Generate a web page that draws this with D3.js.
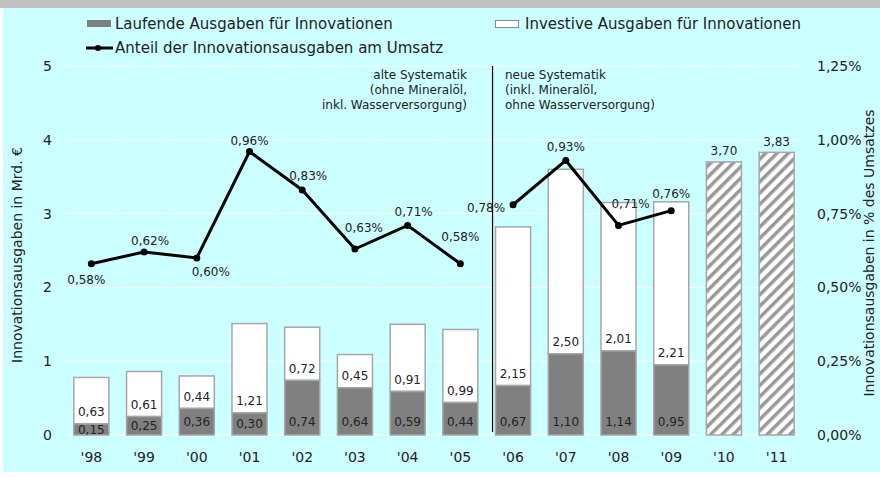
<!DOCTYPE html>
<html>
<head>
<meta charset="utf-8">
<script src="https://cdn.jsdelivr.net/npm/d3@7/dist/d3.min.js"></script>
<style>
body { margin: 0; background: #fff; }
svg text { font-family: "DejaVu Sans", Verdana, sans-serif; fill: #222; }
</style>
</head>
<body>
<script>
// Jahre und Werte (Mrd. €)
var years = ["'98", "'99", "'00", "'01", "'02", "'03", "'04", "'05", "'06", "'07", "'08", "'09", "'10", "'11"];
var laufende = [0.15, 0.25, 0.36, 0.30, 0.74, 0.64, 0.59, 0.44, 0.67, 1.10, 1.14, 0.95];
var investive = [0.63, 0.61, 0.44, 1.21, 0.72, 0.45, 0.91, 0.99, 2.15, 2.50, 2.01, 2.21];
var planYears = ["'10", "'11"];
var planTotal = [3.70, 3.83];
// Anteil am Umsatz in %, alte / neue Systematik
var anteilAlt = [0.58, 0.62, 0.60, 0.96, 0.83, 0.63, 0.71, 0.58];
var anteilNeu = [0.78, 0.93, 0.71, 0.76];
var leftTicks = [0, 1, 2, 3, 4, 5];
var rightTicks = [0, 0.25, 0.5, 0.75, 1.0, 1.25];

// label offsets for the percent labels (dx, dy of text centre)
var pctOffset = [[-5, 16], [6, -11], [14, 14], [0, -11], [6, -14], [9, -21], [6, -14], [0, -27],
                 [-27, 3], [0, -14], [12, -22], [0, -17]];

var W = 880, H = 477;
var fmt = function (v) { return v.toFixed(2).replace('.', ','); };
var fmtPct = function (v) { return v.toFixed(2).replace('.', ',') + '%'; };

var svg = d3.select('body').append('svg').attr('width', W).attr('height', H);

svg.append('rect').attr('x', 3).attr('y', 0).attr('width', W - 3).attr('height', 472).attr('fill', '#ccffff');
svg.append('rect').attr('x', 0).attr('y', 0).attr('width', W).attr('height', 8).attr('fill', '#c0c0c0');

var defs = svg.append('defs');
var pat = defs.append('pattern').attr('id', 'hatch')
    .attr('patternUnits', 'userSpaceOnUse').attr('width', 8).attr('height', 8)
    .attr('patternTransform', 'rotate(45)');
pat.append('rect').attr('width', 8).attr('height', 8).attr('fill', '#fff');
pat.append('rect').attr('x', 0).attr('width', 3.5).attr('height', 8).attr('fill', '#999');

var x = d3.scaleBand().domain(years).range([65, 803]).paddingInner(0.335).paddingOuter(0.1675);
var y = d3.scaleLinear().domain([0, 5]).range([435, 66]);
var y2 = d3.scaleLinear().domain([0, 1.25]).range([435, 66]);
var step = x.step();

// gridlines
svg.append('g').selectAll('line').data(leftTicks).enter().append('line')
    .attr('x1', 65).attr('x2', 803)
    .attr('y1', function (d) { return y(d); }).attr('y2', function (d) { return y(d); })
    .attr('stroke', '#fff').attr('stroke-width', 1)
    .attr('stroke-dasharray', (step - 1.5) + ',1.5');

// left axis
var gl = svg.append('g').attr('transform', 'translate(52,0)')
    .call(d3.axisLeft(y).tickValues(leftTicks).tickSize(0).tickPadding(0).tickFormat(d3.format('d')));
gl.select('.domain').remove();
gl.selectAll('text').style('font-size', '14px');

// right axis
var gr = svg.append('g').attr('transform', 'translate(817,0)')
    .call(d3.axisRight(y2).tickValues(rightTicks).tickSize(0).tickPadding(0).tickFormat(fmtPct));
gr.select('.domain').remove();
gr.selectAll('text').style('font-size', '14px').attr('text-anchor', 'start');

// x axis
var gx = svg.append('g').attr('transform', 'translate(0,452)')
    .call(d3.axisBottom(x).tickSize(0).tickPadding(0));
gx.select('.domain').remove();
gx.selectAll('text').style('font-size', '14px').attr('dy', '0.71em');

// stacked bars
var barYears = years.slice(0, laufende.length);
var bars = svg.append('g').selectAll('g').data(barYears).enter().append('g');
bars.append('rect')
    .attr('x', function (d) { return x(d); })
    .attr('width', x.bandwidth())
    .attr('y', function (d, i) { return y(laufende[i] + investive[i]); })
    .attr('height', function (d, i) { return y(laufende[i]) - y(laufende[i] + investive[i]); })
    .attr('fill', '#fff').attr('stroke', '#a6a6a6').attr('stroke-width', 1.5);
bars.append('rect')
    .attr('x', function (d) { return x(d); })
    .attr('width', x.bandwidth())
    .attr('y', function (d, i) { return y(laufende[i]); })
    .attr('height', function (d, i) { return y(0) - y(laufende[i]); })
    .attr('fill', '#808080').attr('stroke', '#a6a6a6').attr('stroke-width', 1.5);
bars.append('text')
    .attr('x', function (d) { return x(d) + x.bandwidth() / 2; })
    .attr('y', function (d, i) { return Math.max(y(0) - 13, (y(0) + y(laufende[i])) / 2); })
    .attr('dy', '0.35em').attr('text-anchor', 'middle').style('font-size', '12px')
    .text(function (d, i) { return fmt(laufende[i]); });
bars.append('text')
    .attr('x', function (d) { return x(d) + x.bandwidth() / 2; })
    .attr('y', function (d, i) { return y(laufende[i]) - 12; })
    .attr('dy', '0.35em').attr('text-anchor', 'middle').style('font-size', '12px')
    .text(function (d, i) { return fmt(investive[i]); });

// planned totals (hatched)
var plan = svg.append('g').selectAll('g').data(planYears).enter().append('g');
plan.append('rect')
    .attr('x', function (d) { return x(d); })
    .attr('width', x.bandwidth())
    .attr('y', function (d, i) { return y(planTotal[i]); })
    .attr('height', function (d, i) { return y(0) - y(planTotal[i]); })
    .attr('fill', 'url(#hatch)').attr('stroke', '#a6a6a6').attr('stroke-width', 1.5);
plan.append('text')
    .attr('x', function (d) { return x(d) + x.bandwidth() / 2; })
    .attr('y', function (d, i) { return y(planTotal[i]) - 11; })
    .attr('dy', '0.35em').attr('text-anchor', 'middle').style('font-size', '12px')
    .text(function (d, i) { return fmt(planTotal[i]); });

// separator between old and new system
var sepX = x("'06") - 3;
svg.append('line').attr('x1', sepX).attr('x2', sepX).attr('y1', 66).attr('y2', 432)
    .attr('stroke', '#000').attr('stroke-width', 1.2);
var noteL = svg.append('text').attr('x', 467).attr('y', 79).attr('text-anchor', 'end').style('font-size', '12px');
['alte Systematik', '(ohne Mineralöl,', 'inkl. Wasserversorgung)'].forEach(function (t, i) {
    noteL.append('tspan').attr('x', 467).attr('dy', i ? 15 : 0).text(t);
});
var noteR = svg.append('text').attr('x', 505).attr('y', 79).style('font-size', '12px');
['neue Systematik', '(inkl. Mineralöl,', 'ohne Wasserversorgung)'].forEach(function (t, i) {
    noteR.append('tspan').attr('x', 505).attr('dy', i ? 15 : 0).text(t);
});

// share lines
var cx = function (d) { return x(d.year) + x.bandwidth() / 2; };
var line = d3.line().x(cx).y(function (d) { return y2(d.v); });
var segAlt = anteilAlt.map(function (v, i) { return { year: years[i], v: v, k: i }; });
var segNeu = anteilNeu.map(function (v, i) { return { year: years[i + 8], v: v, k: i + 8 }; });
[segAlt, segNeu].forEach(function (seg) {
    svg.append('path').datum(seg).attr('d', line)
        .attr('fill', 'none').attr('stroke', '#000').attr('stroke-width', 3);
    svg.append('g').selectAll('circle').data(seg).enter().append('circle')
        .attr('cx', cx).attr('cy', function (d) { return y2(d.v); }).attr('r', 3.5).attr('fill', '#000');
    svg.append('g').selectAll('text').data(seg).enter().append('text')
        .attr('x', function (d) { return cx(d) + pctOffset[d.k][0]; })
        .attr('y', function (d) { return y2(d.v) + pctOffset[d.k][1]; })
        .attr('dy', '0.35em').attr('text-anchor', 'middle').style('font-size', '12px')
        .text(function (d) { return fmtPct(d.v); });
});

// axis titles
svg.append('text').attr('transform', 'translate(22,255) rotate(-90)')
    .attr('text-anchor', 'middle').style('font-size', '14px').text('Innovationsausgaben in Mrd. €');
svg.append('text').attr('transform', 'translate(874,253) rotate(-90)')
    .attr('text-anchor', 'middle').style('font-size', '14px').text('Innovationsausgaben in % des Umsatzes');

// legend
var lg = svg.append('g');
lg.append('rect').attr('x', 87).attr('y', 20).attr('width', 24).attr('height', 7).attr('fill', '#808080');
lg.append('text').attr('x', 115).attr('y', 24).attr('dy', '0.35em').style('font-size', '15px')
    .text('Laufende Ausgaben für Innovationen');
lg.append('rect').attr('x', 495.5).attr('y', 20.5).attr('width', 23).attr('height', 7)
    .attr('fill', '#fff').attr('stroke', '#888').attr('stroke-width', 1);
lg.append('text').attr('x', 525).attr('y', 24).attr('dy', '0.35em').style('font-size', '15px')
    .text('Investive Ausgaben für Innovationen');
lg.append('line').attr('x1', 86).attr('x2', 113).attr('y1', 48).attr('y2', 48)
    .attr('stroke', '#000').attr('stroke-width', 3);
lg.append('circle').attr('cx', 98).attr('cy', 48).attr('r', 3).attr('fill', '#000');
lg.append('text').attr('x', 115).attr('y', 48).attr('dy', '0.35em').style('font-size', '15px')
    .text('Anteil der Innovationsausgaben am Umsatz');
</script>
</body>
</html>
